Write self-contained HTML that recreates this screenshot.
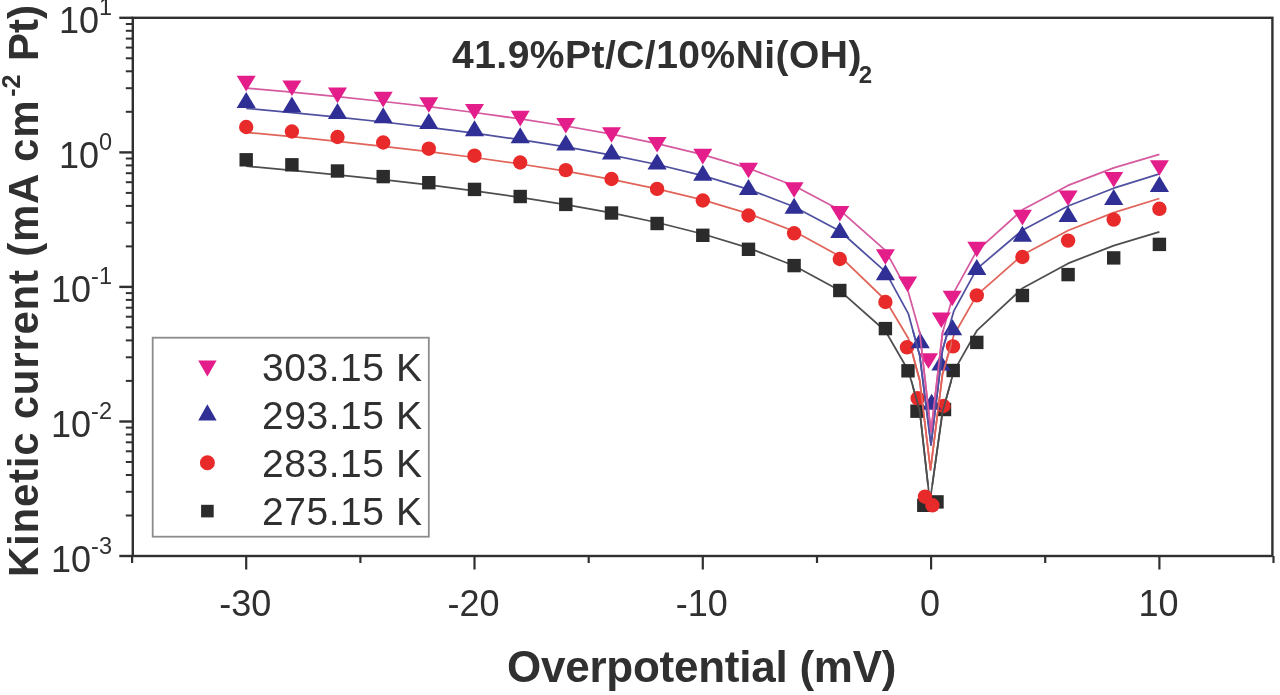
<!DOCTYPE html>
<html><head><meta charset="utf-8"><style>
html,body{margin:0;padding:0;background:#fff;}
svg{display:block;filter:blur(0.45px);}
text{font-family:"Liberation Sans",sans-serif;fill:#303030;}
.tl{font-size:36px;}
.sup{font-size:23.5px;}
.lg{font-size:39px;}
.ttl{font-size:39px;font-weight:bold;}
.sub{font-size:24px;font-weight:bold;}
.xt{font-size:44px;font-weight:bold;}
.yt{font-size:42px;font-weight:bold;}
.ysup{font-size:25px;font-weight:bold;}
</style></head><body>
<svg width="1280" height="695" viewBox="0 0 1280 695">
<rect width="1280" height="695" fill="#fff"/>
<rect x="132.8" y="17.8" width="1139.6000000000001" height="538.2" fill="none" stroke="#303030" stroke-width="2.4"/>
<line x1="119.30000000000001" y1="556.0" x2="132.8" y2="556.0" stroke="#303030" stroke-width="2.4"/>
<line x1="125.80000000000001" y1="515.5" x2="132.8" y2="515.5" stroke="#303030" stroke-width="2"/>
<line x1="125.80000000000001" y1="491.8" x2="132.8" y2="491.8" stroke="#303030" stroke-width="2"/>
<line x1="125.80000000000001" y1="475.0" x2="132.8" y2="475.0" stroke="#303030" stroke-width="2"/>
<line x1="125.80000000000001" y1="462.0" x2="132.8" y2="462.0" stroke="#303030" stroke-width="2"/>
<line x1="125.80000000000001" y1="451.3" x2="132.8" y2="451.3" stroke="#303030" stroke-width="2"/>
<line x1="125.80000000000001" y1="442.3" x2="132.8" y2="442.3" stroke="#303030" stroke-width="2"/>
<line x1="125.80000000000001" y1="434.5" x2="132.8" y2="434.5" stroke="#303030" stroke-width="2"/>
<line x1="125.80000000000001" y1="427.6" x2="132.8" y2="427.6" stroke="#303030" stroke-width="2"/>
<line x1="119.30000000000001" y1="421.5" x2="132.8" y2="421.5" stroke="#303030" stroke-width="2.4"/>
<line x1="125.80000000000001" y1="380.9" x2="132.8" y2="380.9" stroke="#303030" stroke-width="2"/>
<line x1="125.80000000000001" y1="357.3" x2="132.8" y2="357.3" stroke="#303030" stroke-width="2"/>
<line x1="125.80000000000001" y1="340.4" x2="132.8" y2="340.4" stroke="#303030" stroke-width="2"/>
<line x1="125.80000000000001" y1="327.4" x2="132.8" y2="327.4" stroke="#303030" stroke-width="2"/>
<line x1="125.80000000000001" y1="316.7" x2="132.8" y2="316.7" stroke="#303030" stroke-width="2"/>
<line x1="125.80000000000001" y1="307.7" x2="132.8" y2="307.7" stroke="#303030" stroke-width="2"/>
<line x1="125.80000000000001" y1="299.9" x2="132.8" y2="299.9" stroke="#303030" stroke-width="2"/>
<line x1="125.80000000000001" y1="293.1" x2="132.8" y2="293.1" stroke="#303030" stroke-width="2"/>
<line x1="119.30000000000001" y1="286.9" x2="132.8" y2="286.9" stroke="#303030" stroke-width="2.4"/>
<line x1="125.80000000000001" y1="246.4" x2="132.8" y2="246.4" stroke="#303030" stroke-width="2"/>
<line x1="125.80000000000001" y1="222.7" x2="132.8" y2="222.7" stroke="#303030" stroke-width="2"/>
<line x1="125.80000000000001" y1="205.9" x2="132.8" y2="205.9" stroke="#303030" stroke-width="2"/>
<line x1="125.80000000000001" y1="192.9" x2="132.8" y2="192.9" stroke="#303030" stroke-width="2"/>
<line x1="125.80000000000001" y1="182.2" x2="132.8" y2="182.2" stroke="#303030" stroke-width="2"/>
<line x1="125.80000000000001" y1="173.2" x2="132.8" y2="173.2" stroke="#303030" stroke-width="2"/>
<line x1="125.80000000000001" y1="165.4" x2="132.8" y2="165.4" stroke="#303030" stroke-width="2"/>
<line x1="125.80000000000001" y1="158.5" x2="132.8" y2="158.5" stroke="#303030" stroke-width="2"/>
<line x1="119.30000000000001" y1="152.4" x2="132.8" y2="152.4" stroke="#303030" stroke-width="2.4"/>
<line x1="125.80000000000001" y1="111.8" x2="132.8" y2="111.8" stroke="#303030" stroke-width="2"/>
<line x1="125.80000000000001" y1="88.2" x2="132.8" y2="88.2" stroke="#303030" stroke-width="2"/>
<line x1="125.80000000000001" y1="71.3" x2="132.8" y2="71.3" stroke="#303030" stroke-width="2"/>
<line x1="125.80000000000001" y1="58.3" x2="132.8" y2="58.3" stroke="#303030" stroke-width="2"/>
<line x1="125.80000000000001" y1="47.6" x2="132.8" y2="47.6" stroke="#303030" stroke-width="2"/>
<line x1="125.80000000000001" y1="38.6" x2="132.8" y2="38.6" stroke="#303030" stroke-width="2"/>
<line x1="125.80000000000001" y1="30.8" x2="132.8" y2="30.8" stroke="#303030" stroke-width="2"/>
<line x1="125.80000000000001" y1="24.0" x2="132.8" y2="24.0" stroke="#303030" stroke-width="2"/>
<line x1="119.30000000000001" y1="17.8" x2="132.8" y2="17.8" stroke="#303030" stroke-width="2.4"/>
<line x1="132.1" y1="556.0" x2="132.1" y2="563.0" stroke="#303030" stroke-width="2.2"/>
<line x1="246.2" y1="556.0" x2="246.2" y2="569.5" stroke="#303030" stroke-width="2.2"/>
<line x1="360.4" y1="556.0" x2="360.4" y2="563.0" stroke="#303030" stroke-width="2.2"/>
<line x1="474.5" y1="556.0" x2="474.5" y2="569.5" stroke="#303030" stroke-width="2.2"/>
<line x1="588.7" y1="556.0" x2="588.7" y2="563.0" stroke="#303030" stroke-width="2.2"/>
<line x1="702.8" y1="556.0" x2="702.8" y2="569.5" stroke="#303030" stroke-width="2.2"/>
<line x1="817.0" y1="556.0" x2="817.0" y2="563.0" stroke="#303030" stroke-width="2.2"/>
<line x1="931.1" y1="556.0" x2="931.1" y2="569.5" stroke="#303030" stroke-width="2.2"/>
<line x1="1045.2" y1="556.0" x2="1045.2" y2="563.0" stroke="#303030" stroke-width="2.2"/>
<line x1="1159.4" y1="556.0" x2="1159.4" y2="569.5" stroke="#303030" stroke-width="2.2"/>
<line x1="1273.5" y1="556.0" x2="1273.5" y2="563.0" stroke="#303030" stroke-width="2.2"/>
<text x="245.2" y="616" text-anchor="middle" class="tl">-30</text>
<text x="473.5" y="616" text-anchor="middle" class="tl">-20</text>
<text x="701.8" y="616" text-anchor="middle" class="tl">-10</text>
<text x="930.1" y="616" text-anchor="middle" class="tl">0</text>
<text x="1158.4" y="616" text-anchor="middle" class="tl">10</text>
<text x="112" y="33.3" text-anchor="end" class="tl">10<tspan dy="-18" class="sup">1</tspan></text>
<text x="112" y="167.9" text-anchor="end" class="tl">10<tspan dy="-18" class="sup">0</tspan></text>
<text x="112" y="302.4" text-anchor="end" class="tl">10<tspan dy="-18" class="sup">-1</tspan></text>
<text x="112" y="437.0" text-anchor="end" class="tl">10<tspan dy="-18" class="sup">-2</tspan></text>
<text x="112" y="571.5" text-anchor="end" class="tl">10<tspan dy="-18" class="sup">-3</tspan></text>
<defs><clipPath id="dip"><rect x="912" y="330" width="40" height="155"/></clipPath></defs>
<path d="M246.2 166.2 L291.9 170.3 L337.5 174.8 L383.2 179.6 L428.8 184.9 L474.5 190.8 L520.2 197.3 L565.8 204.6 L611.5 212.9 L657.1 222.5 L702.8 234.0 L748.5 247.9 L794.1 265.8 L839.8 290.6 L885.4 331.0 L908.3 370.5 L919.7 410.6 L929.9 502.0 L942.5 412.1 L953.9 371.1 L976.8 330.7 L1022.4 288.3 L1068.1 263.4 L1113.7 245.6 L1159.4 231.8" fill="none" stroke="#4e4e4e" stroke-width="1.75" stroke-linejoin="round"/>
<path d="M246.2 132.4 L291.9 136.7 L337.5 141.3 L383.2 146.3 L428.8 151.6 L474.5 157.5 L520.2 164.0 L565.8 171.2 L611.5 179.4 L657.1 188.8 L702.8 199.9 L748.5 213.6 L794.1 231.2 L839.8 256.2 L885.4 300.0 L908.3 338.3 L919.7 380.3 L930.5 470.0 L942.5 374.2 L953.9 335.0 L976.8 295.1 L1022.4 255.0 L1068.1 230.5 L1113.7 212.6 L1159.4 198.5" fill="none" stroke="#e0645a" stroke-width="1.75" stroke-linejoin="round"/>
<path d="M246.2 108.3 L291.9 112.6 L337.5 117.1 L383.2 122.0 L428.8 127.3 L474.5 133.2 L520.2 139.7 L565.8 146.9 L611.5 155.1 L657.1 164.5 L702.8 175.7 L748.5 189.3 L794.1 206.7 L839.8 231.0 L885.4 271.7 L908.3 313.6 L919.7 355.5 L931.0 445.0 L942.5 350.0 L953.9 310.8 L976.8 268.8 L1022.4 230.2 L1068.1 206.0 L1113.7 188.2 L1159.4 173.9" fill="none" stroke="#5050a0" stroke-width="1.75" stroke-linejoin="round"/>
<path d="M246.2 88.1 L291.9 92.2 L337.5 96.6 L383.2 101.5 L428.8 106.7 L474.5 112.5 L520.2 118.9 L565.8 126.0 L611.5 134.2 L657.1 143.6 L702.8 154.7 L748.5 168.3 L794.1 185.7 L839.8 210.1 L885.4 250.4 L908.3 292.1 L919.7 332.5 L931.0 432.0 L942.5 332.9 L953.9 292.3 L976.8 250.8 L1022.4 209.8 L1068.1 185.4 L1113.7 167.9 L1159.4 154.3" fill="none" stroke="#d65a9f" stroke-width="1.75" stroke-linejoin="round"/>
<rect x="239.5" y="153.1" width="13.4" height="13.4" fill="#2b2b2b"/>
<rect x="285.2" y="158.1" width="13.4" height="13.4" fill="#2b2b2b"/>
<rect x="330.8" y="164.3" width="13.4" height="13.4" fill="#2b2b2b"/>
<rect x="376.5" y="169.9" width="13.4" height="13.4" fill="#2b2b2b"/>
<rect x="422.1" y="176.0" width="13.4" height="13.4" fill="#2b2b2b"/>
<rect x="467.8" y="182.7" width="13.4" height="13.4" fill="#2b2b2b"/>
<rect x="513.5" y="189.8" width="13.4" height="13.4" fill="#2b2b2b"/>
<rect x="559.1" y="197.7" width="13.4" height="13.4" fill="#2b2b2b"/>
<rect x="604.8" y="206.3" width="13.4" height="13.4" fill="#2b2b2b"/>
<rect x="650.4" y="216.8" width="13.4" height="13.4" fill="#2b2b2b"/>
<rect x="696.1" y="228.6" width="13.4" height="13.4" fill="#2b2b2b"/>
<rect x="741.8" y="242.6" width="13.4" height="13.4" fill="#2b2b2b"/>
<rect x="787.4" y="258.9" width="13.4" height="13.4" fill="#2b2b2b"/>
<rect x="833.1" y="283.8" width="13.4" height="13.4" fill="#2b2b2b"/>
<rect x="878.7" y="321.9" width="13.4" height="13.4" fill="#2b2b2b"/>
<rect x="901.3" y="364.1" width="13.4" height="13.4" fill="#2b2b2b"/>
<rect x="910.3" y="404.5" width="13.4" height="13.4" fill="#2b2b2b"/>
<rect x="917.1" y="498.6" width="13.4" height="13.4" fill="#2b2b2b"/>
<rect x="930.3" y="495.2" width="13.4" height="13.4" fill="#2b2b2b"/>
<rect x="937.8" y="402.8" width="13.4" height="13.4" fill="#2b2b2b"/>
<rect x="946.5" y="363.8" width="13.4" height="13.4" fill="#2b2b2b"/>
<rect x="970.1" y="335.7" width="13.4" height="13.4" fill="#2b2b2b"/>
<rect x="1015.7" y="288.8" width="13.4" height="13.4" fill="#2b2b2b"/>
<rect x="1061.4" y="267.9" width="13.4" height="13.4" fill="#2b2b2b"/>
<rect x="1107.0" y="251.2" width="13.4" height="13.4" fill="#2b2b2b"/>
<rect x="1152.7" y="237.7" width="13.4" height="13.4" fill="#2b2b2b"/>
<circle cx="246.2" cy="127.0" r="7.2" fill="#e82a2a"/>
<circle cx="291.9" cy="131.5" r="7.2" fill="#e82a2a"/>
<circle cx="337.5" cy="137.0" r="7.2" fill="#e82a2a"/>
<circle cx="383.2" cy="142.5" r="7.2" fill="#e82a2a"/>
<circle cx="428.8" cy="148.7" r="7.2" fill="#e82a2a"/>
<circle cx="474.5" cy="155.7" r="7.2" fill="#e82a2a"/>
<circle cx="520.2" cy="162.5" r="7.2" fill="#e82a2a"/>
<circle cx="565.8" cy="170.1" r="7.2" fill="#e82a2a"/>
<circle cx="611.5" cy="179.0" r="7.2" fill="#e82a2a"/>
<circle cx="657.1" cy="188.9" r="7.2" fill="#e82a2a"/>
<circle cx="702.8" cy="200.5" r="7.2" fill="#e82a2a"/>
<circle cx="748.5" cy="215.5" r="7.2" fill="#e82a2a"/>
<circle cx="794.1" cy="233.3" r="7.2" fill="#e82a2a"/>
<circle cx="839.8" cy="259.0" r="7.2" fill="#e82a2a"/>
<circle cx="885.4" cy="302.0" r="7.2" fill="#e82a2a"/>
<circle cx="907.0" cy="347.3" r="7.2" fill="#e82a2a"/>
<circle cx="917.7" cy="398.3" r="7.2" fill="#e82a2a"/>
<circle cx="925.0" cy="496.7" r="7.2" fill="#e82a2a"/>
<circle cx="932.4" cy="505.3" r="7.2" fill="#e82a2a"/>
<circle cx="943.5" cy="406.0" r="7.2" fill="#e82a2a"/>
<circle cx="953.0" cy="346.4" r="7.2" fill="#e82a2a"/>
<circle cx="976.8" cy="295.4" r="7.2" fill="#e82a2a"/>
<circle cx="1022.4" cy="257.0" r="7.2" fill="#e82a2a"/>
<circle cx="1068.1" cy="240.6" r="7.2" fill="#e82a2a"/>
<circle cx="1113.7" cy="219.6" r="7.2" fill="#e82a2a"/>
<circle cx="1159.4" cy="208.8" r="7.2" fill="#e82a2a"/>
<path d="M236.6 108.0H255.8L246.2 92.0Z" fill="#2f2f96"/>
<path d="M282.3 112.5H301.5L291.9 96.5Z" fill="#2f2f96"/>
<path d="M327.9 119.0H347.1L337.5 103.0Z" fill="#2f2f96"/>
<path d="M373.6 123.2H392.8L383.2 107.2Z" fill="#2f2f96"/>
<path d="M419.2 129.0H438.4L428.8 113.0Z" fill="#2f2f96"/>
<path d="M464.9 136.3H484.1L474.5 120.3Z" fill="#2f2f96"/>
<path d="M510.6 143.2H529.8L520.2 127.2Z" fill="#2f2f96"/>
<path d="M556.2 150.5H575.4L565.8 134.5Z" fill="#2f2f96"/>
<path d="M601.9 159.5H621.1L611.5 143.5Z" fill="#2f2f96"/>
<path d="M647.5 169.4H666.7L657.1 153.4Z" fill="#2f2f96"/>
<path d="M693.2 180.8H712.4L702.8 164.8Z" fill="#2f2f96"/>
<path d="M738.9 195.1H758.1L748.5 179.1Z" fill="#2f2f96"/>
<path d="M784.5 213.8H803.7L794.1 197.8Z" fill="#2f2f96"/>
<path d="M830.2 238.0H849.4L839.8 222.0Z" fill="#2f2f96"/>
<path d="M875.8 280.2H895.0L885.4 264.2Z" fill="#2f2f96"/>
<path d="M910.6 348.2H929.8L920.2 332.2Z" fill="#2f2f96"/>
<path d="M922.0 409.7H941.2L931.6 393.7Z" fill="#2f2f96"/>
<path d="M931.4 370.4H950.6L941.0 354.4Z" fill="#2f2f96"/>
<path d="M943.0 335.3H962.2L952.6 319.3Z" fill="#2f2f96"/>
<path d="M967.2 275.0H986.4L976.8 259.0Z" fill="#2f2f96"/>
<path d="M1012.8 241.7H1032.0L1022.4 225.7Z" fill="#2f2f96"/>
<path d="M1058.5 222.0H1077.7L1068.1 206.0Z" fill="#2f2f96"/>
<path d="M1104.1 205.0H1123.3L1113.7 189.0Z" fill="#2f2f96"/>
<path d="M1149.8 192.0H1169.0L1159.4 176.0Z" fill="#2f2f96"/>
<path d="M236.7 75.8H255.7L246.2 91.4Z" fill="#e31d8a"/>
<path d="M282.4 80.4H301.4L291.9 96.0Z" fill="#e31d8a"/>
<path d="M328.0 87.6H347.0L337.5 103.2Z" fill="#e31d8a"/>
<path d="M373.7 91.8H392.7L383.2 107.4Z" fill="#e31d8a"/>
<path d="M419.3 97.2H438.3L428.8 112.8Z" fill="#e31d8a"/>
<path d="M465.0 104.0H484.0L474.5 119.6Z" fill="#e31d8a"/>
<path d="M510.7 110.8H529.7L520.2 126.4Z" fill="#e31d8a"/>
<path d="M556.3 117.9H575.3L565.8 133.5Z" fill="#e31d8a"/>
<path d="M602.0 127.2H621.0L611.5 142.8Z" fill="#e31d8a"/>
<path d="M647.6 136.9H666.6L657.1 152.5Z" fill="#e31d8a"/>
<path d="M693.3 148.8H712.3L702.8 164.4Z" fill="#e31d8a"/>
<path d="M739.0 162.7H758.0L748.5 178.3Z" fill="#e31d8a"/>
<path d="M784.6 182.2H803.6L794.1 197.8Z" fill="#e31d8a"/>
<path d="M830.3 206.0H849.3L839.8 221.6Z" fill="#e31d8a"/>
<path d="M875.9 249.2H894.9L885.4 264.8Z" fill="#e31d8a"/>
<path d="M898.2 276.4H917.2L907.7 292.0Z" fill="#e31d8a"/>
<path d="M919.0 353.2H938.0L928.5 368.8Z" fill="#e31d8a"/>
<path d="M931.8 312.5H950.8L941.3 328.1Z" fill="#e31d8a"/>
<path d="M942.7 290.7H961.7L952.2 306.3Z" fill="#e31d8a"/>
<path d="M967.3 241.7H986.3L976.8 257.3Z" fill="#e31d8a"/>
<path d="M1012.9 209.8H1031.9L1022.4 225.4Z" fill="#e31d8a"/>
<path d="M1058.6 190.5H1077.6L1068.1 206.1Z" fill="#e31d8a"/>
<path d="M1104.2 171.9H1123.2L1113.7 187.5Z" fill="#e31d8a"/>
<path d="M1149.9 160.2H1168.9L1159.4 175.8Z" fill="#e31d8a"/>
<g clip-path="url(#dip)">
<path d="M246.2 166.2 L291.9 170.3 L337.5 174.8 L383.2 179.6 L428.8 184.9 L474.5 190.8 L520.2 197.3 L565.8 204.6 L611.5 212.9 L657.1 222.5 L702.8 234.0 L748.5 247.9 L794.1 265.8 L839.8 290.6 L885.4 331.0 L908.3 370.5 L919.7 410.6 L929.9 502.0 L942.5 412.1 L953.9 371.1 L976.8 330.7 L1022.4 288.3 L1068.1 263.4 L1113.7 245.6 L1159.4 231.8" fill="none" stroke="#4e4e4e" stroke-width="1.75" stroke-linejoin="round"/>
<path d="M246.2 132.4 L291.9 136.7 L337.5 141.3 L383.2 146.3 L428.8 151.6 L474.5 157.5 L520.2 164.0 L565.8 171.2 L611.5 179.4 L657.1 188.8 L702.8 199.9 L748.5 213.6 L794.1 231.2 L839.8 256.2 L885.4 300.0 L908.3 338.3 L919.7 380.3 L930.5 470.0 L942.5 374.2 L953.9 335.0 L976.8 295.1 L1022.4 255.0 L1068.1 230.5 L1113.7 212.6 L1159.4 198.5" fill="none" stroke="#e0645a" stroke-width="1.75" stroke-linejoin="round"/>
<path d="M246.2 108.3 L291.9 112.6 L337.5 117.1 L383.2 122.0 L428.8 127.3 L474.5 133.2 L520.2 139.7 L565.8 146.9 L611.5 155.1 L657.1 164.5 L702.8 175.7 L748.5 189.3 L794.1 206.7 L839.8 231.0 L885.4 271.7 L908.3 313.6 L919.7 355.5 L931.0 445.0 L942.5 350.0 L953.9 310.8 L976.8 268.8 L1022.4 230.2 L1068.1 206.0 L1113.7 188.2 L1159.4 173.9" fill="none" stroke="#5050a0" stroke-width="1.75" stroke-linejoin="round"/>
<path d="M246.2 88.1 L291.9 92.2 L337.5 96.6 L383.2 101.5 L428.8 106.7 L474.5 112.5 L520.2 118.9 L565.8 126.0 L611.5 134.2 L657.1 143.6 L702.8 154.7 L748.5 168.3 L794.1 185.7 L839.8 210.1 L885.4 250.4 L908.3 292.1 L919.7 332.5 L931.0 432.0 L942.5 332.9 L953.9 292.3 L976.8 250.8 L1022.4 209.8 L1068.1 185.4 L1113.7 167.9 L1159.4 154.3" fill="none" stroke="#d65a9f" stroke-width="1.75" stroke-linejoin="round"/>
</g>
<rect x="152.7" y="337.7" width="276.1" height="199.0" fill="#fff" stroke="#8c8c8c" stroke-width="1.8"/>
<path d="M198.2 360.6H216.6L207.4 376.6Z" fill="#e31d8a"/>
<path d="M198.2 420.6H216.6L207.4 404.2Z" fill="#2f2f96"/>
<circle cx="207.4" cy="462.7" r="7.5" fill="#e82a2a"/>
<rect x="201.1" y="504.8" width="12.6" height="12.6" fill="#2b2b2b"/>
<text x="262" y="381.0" class="lg" textLength="160" lengthAdjust="spacing">303.15 K</text>
<text x="262" y="429.2" class="lg" textLength="160" lengthAdjust="spacing">293.15 K</text>
<text x="262" y="477.3" class="lg" textLength="160" lengthAdjust="spacing">283.15 K</text>
<text x="262" y="525.4" class="lg" textLength="160" lengthAdjust="spacing">275.15 K</text>
<text x="452" y="68" class="ttl" textLength="409.5" lengthAdjust="spacing">41.9%Pt/C/10%Ni(OH)</text>
<text x="858.8" y="83" class="sub">2</text>
<text x="507" y="681.8" class="xt" textLength="389.5" lengthAdjust="spacing">Overpotential (mV)</text>
<text transform="translate(38.0 577) rotate(-90)" class="yt" textLength="476.5" lengthAdjust="spacing">Kinetic current (mA cm</text>
<text transform="translate(19.8 96.8) rotate(-90)" class="ysup">-2</text>
<text transform="translate(38.0 61) rotate(-90)" class="yt">Pt)</text>
</svg>
</body></html>
